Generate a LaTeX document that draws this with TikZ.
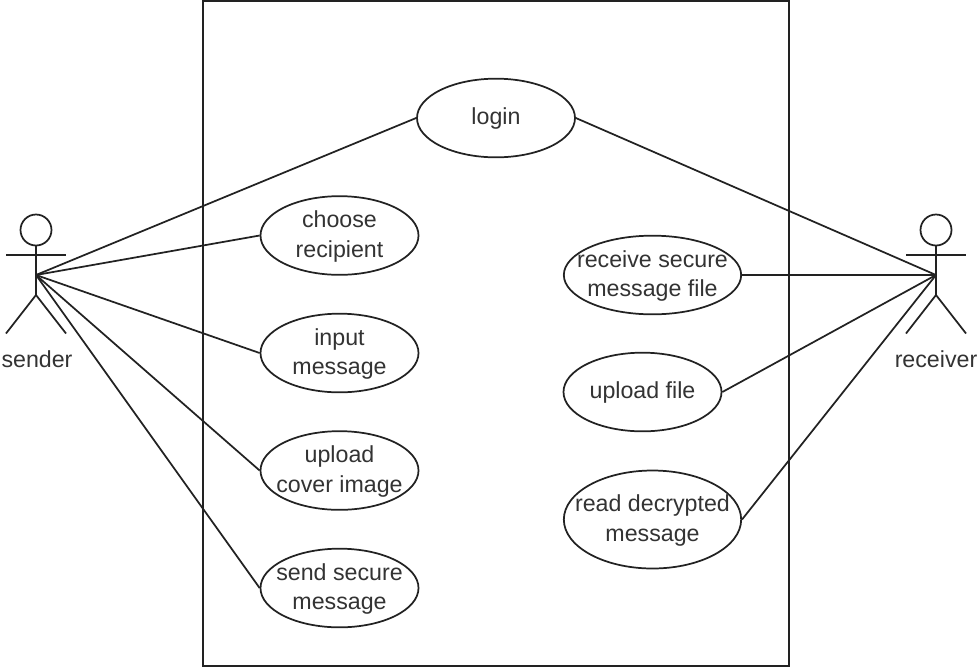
\documentclass[tikz,border=0pt]{standalone}
\usepackage{fontspec}
\setmainfont{Liberation Sans}
\usetikzlibrary{shapes.geometric}
\definecolor{ink}{HTML}{222222}
\definecolor{txt}{HTML}{333333}
\tikzset{
  x=0.75pt,y=-0.75pt,
  usecase/.style={draw=ink,line width=1.3pt,ellipse,inner sep=0pt,minimum width=118.5pt,minimum height=59pt},
  uctext/.style={inner sep=0pt,align=center,font=\fontsize{17.4}{22}\selectfont,text=txt,yshift=-0.7pt},
  link/.style={draw=ink,line width=1.3pt},
  lab/.style={font=\fontsize{17.4}{20}\selectfont,text=txt,inner sep=0pt},
}
\begin{document}
\begin{tikzpicture}
\useasboundingbox (0,0) rectangle (978,669);
\fill[white] (0,0) rectangle (978,669);
\draw[link,line width=1.5pt] (202.7,0.5) rectangle (789,666);
\node[usecase,label={[uctext]center:login}] (login) at (496,118) {};
\node[usecase,label={[uctext]center:{choose\\recipient}}] (choose) at (339.5,235.5) {};
\node[usecase,label={[uctext]center:{input\\message}}] (input) at (339.5,353) {};
\node[usecase,label={[uctext]center:{upload\\cover image}}] (cover) at (339.5,470.5) {};
\node[usecase,label={[uctext]center:{send secure\\message}}] (send) at (339.5,588) {};
\node[usecase,minimum width=133pt,label={[uctext]center:{receive secure\\message file}}] (recv) at (652.5,275) {};
\node[usecase,label={[uctext]center:upload file}] (upfile) at (642.5,392) {};
\node[usecase,minimum width=133pt,minimum height=73.5pt,label={[uctext]center:{read decrypted\\message}}] (read) at (652.5,519.5) {};
% sender actor
\coordinate (sh) at (36,275);
\draw[link] (36,230) circle (15.5);
\draw[link] (36,245.5) -- (36,295);
\draw[link] (6,255) -- (66,255);
\draw[link] (6,333.5) -- (36,295) -- (66,333.5);
\node[lab] (sl) at (37,359.5) {sender};
% receiver actor
\coordinate (rh) at (936,275);
\draw[link] (936,230) circle (15.5);
\draw[link] (936,245.5) -- (936,295);
\draw[link] (906,255) -- (966,255);
\draw[link] (906,333.5) -- (936,295) -- (966,333.5);
\node[lab] (rl) at (936,359.5) {receiver};
% connectors
\foreach \n in {login,choose,input,cover,send} \draw[link] (sh) -- (\n.west);
\foreach \n in {login,recv,upfile,read} \draw[link] (rh) -- (\n.east);
\end{tikzpicture}
\end{document}
